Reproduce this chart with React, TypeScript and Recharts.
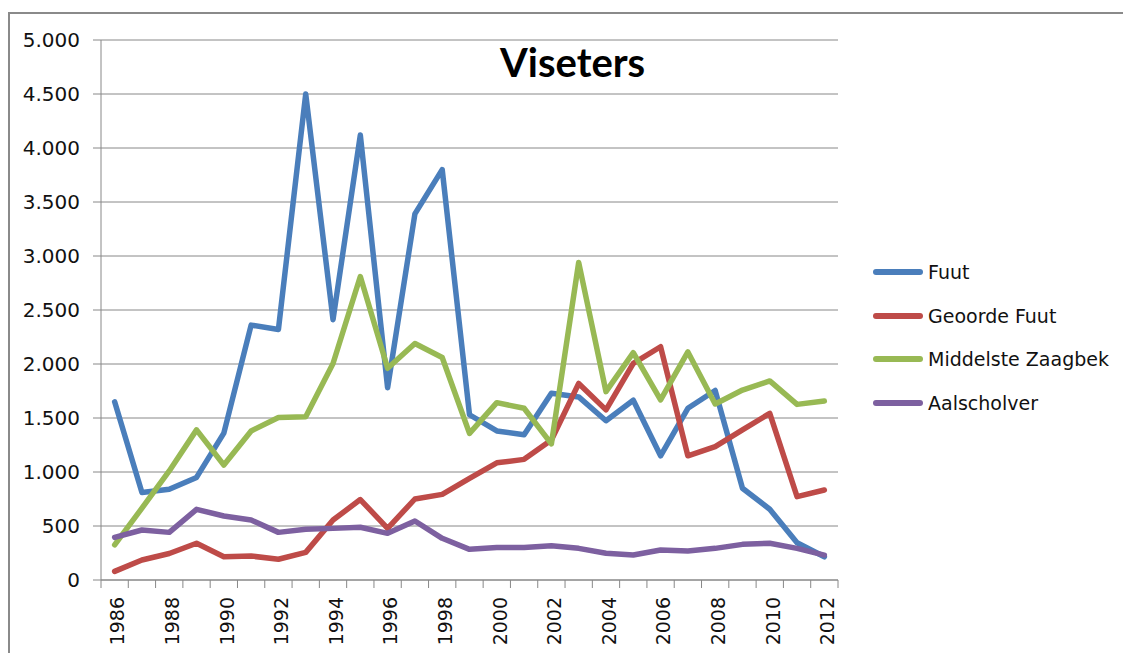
import { LineChart, Line, XAxis, YAxis, CartesianGrid, Legend } from 'recharts';

const YEARS = [
  1986, 1987, 1988, 1989, 1990, 1991, 1992, 1993, 1994, 1995, 1996, 1997, 1998, 1999,
  2000, 2001, 2002, 2003, 2004, 2005, 2006, 2007, 2008, 2009, 2010, 2011, 2012,
];

const FUUT = [
  1650, 810, 840, 950, 1360, 2360, 2320, 4500, 2410, 4120, 1780, 3390, 3800, 1530,
  1380, 1345, 1730, 1695, 1475, 1665, 1150, 1590, 1755, 850, 655, 345, 215,
];
const GEOORDE_FUUT = [
  80, 185, 245, 340, 215, 222, 192, 256, 555, 745, 478, 750, 793, 940,
  1085, 1117, 1296, 1820, 1575, 2005, 2160, 1150, 1235, 1390, 1543, 772, 833,
];
const MIDDELSTE_ZAAGBEK = [
  325, 665, 1010, 1390, 1065, 1380, 1505, 1512, 2005, 2810, 1960, 2190, 2060, 1358,
  1642, 1590, 1260, 2940, 1744, 2105, 1667, 2112, 1630, 1759, 1843, 1626, 1657,
];
const AALSCHOLVER = [
  395, 463, 441, 654, 593, 556, 441, 469, 478, 488, 432, 546, 386, 284,
  302, 302, 318, 293, 247, 231, 278, 269, 293, 330, 340, 293, 231,
];

const Y_TICKS = [0, 500, 1000, 1500, 2000, 2500, 3000, 3500, 4000, 4500, 5000];

const SERIES = [
  { key: 'fuut', name: 'Fuut', color: '#4A7EBB' },
  { key: 'geoorde', name: 'Geoorde Fuut', color: '#BE4B48' },
  { key: 'zaagbek', name: 'Middelste Zaagbek', color: '#98B954' },
  { key: 'aalscholver', name: 'Aalscholver', color: '#7D60A0' },
];

const data = YEARS.map((year, i) => ({
  year,
  fuut: FUUT[i],
  geoorde: GEOORDE_FUUT[i],
  zaagbek: MIDDELSTE_ZAAGBEK[i],
  aalscholver: AALSCHOLVER[i],
}));

const FONT = '"DejaVu Sans", sans-serif';
const GRID = '#888888';
const BAND = (838 - 101) / YEARS.length;

const formatThousands = (v: number) => String(v).replace(/\B(?=(\d{3})+(?!\d))/g, '.');

function YearTick(props: any) {
  const { x, y, payload, index } = props;
  const half = BAND / 2;
  const last = index === YEARS.length - 1;
  return (
    <g>
      <line x1={x - half} y1={y} x2={x - half} y2={y + 8} stroke={GRID} />
      {last && <line x1={x + half} y1={y} x2={x + half} y2={y + 8} stroke={GRID} />}
      {index % 2 === 0 && (
        <text
          transform={`translate(${x + 3},${y + 17}) rotate(-90)`}
          textAnchor="end"
          dy="0.36em"
          fontFamily={FONT}
          fontSize={19}
          fill="#111"
        >
          {payload.value}
        </text>
      )}
    </g>
  );
}

function LegendList(props: any) {
  const payload: any[] = props.payload || [];
  // keep the series order, not the alphabetical one
  const ordered = SERIES.map((s) => payload.find((p) => p.dataKey === s.key)).filter(Boolean);
  return (
    <div style={{ fontFamily: FONT, fontSize: 19, color: '#111' }}>
      {ordered.map((entry: any) => (
        <div key={entry.value} style={{ display: 'flex', alignItems: 'center', height: 43.7 }}>
          <div
            style={{ width: 50, height: 6, borderRadius: 3, background: entry.color, marginRight: 5 }}
          />
          <span>{entry.value}</span>
        </div>
      ))}
    </div>
  );
}

export default function App() {
  return (
    <div
      style={{
        position: 'absolute',
        left: 0,
        top: 0,
        width: 1123,
        height: 653,
        background: '#fff',
        overflow: 'hidden',
      }}
    >
      <div
        style={{
          position: 'absolute',
          left: 8,
          top: 12,
          width: 1200,
          height: 700,
          borderTop: '2px solid #8a8a8a',
          borderLeft: '2px solid #8a8a8a',
        }}
      />
      <div style={{ position: 'absolute', left: 0, top: 0 }}>
        <LineChart
          width={1123}
          height={653}
          data={data}
          margin={{ top: 40, right: 285, bottom: 0, left: 0 }}
        >
          <CartesianGrid vertical={false} stroke={GRID} />
          <XAxis
            dataKey="year"
            scale="band"
            interval={0}
            height={73}
            tickSize={0}
            tickMargin={0}
            axisLine={{ stroke: GRID }}
            tickLine={false}
            tick={<YearTick />}
          />
          <YAxis
            width={101}
            domain={[0, 5000]}
            ticks={Y_TICKS}
            interval={0}
            tickFormatter={formatThousands}
            tickSize={8}
            tickMargin={13}
            axisLine={{ stroke: GRID }}
            tickLine={{ stroke: GRID }}
            tick={{ fontFamily: FONT, fontSize: 20, fill: '#111' }}
          />
          <Legend
            layout="horizontal"
            verticalAlign="middle"
            align="center"
            content={<LegendList />}
            wrapperStyle={{ left: 873, top: 250, width: 250 }}
          />
          {SERIES.map((s) => (
            <Line
              key={s.key}
              type="linear"
              dataKey={s.key}
              name={s.name}
              stroke={s.color}
              strokeWidth={5.5}
              strokeLinejoin="round"
              strokeLinecap="round"
              dot={false}
              isAnimationActive={false}
            />
          ))}
        </LineChart>
      </div>
      <div
        style={{
          position: 'absolute',
          left: 500,
          top: 38,
          fontFamily: 'Lato, sans-serif',
          fontWeight: 700,
          fontSize: 40,
          color: '#000',
          lineHeight: '48px',
        }}
      >
        Viseters
      </div>
    </div>
  );
}
